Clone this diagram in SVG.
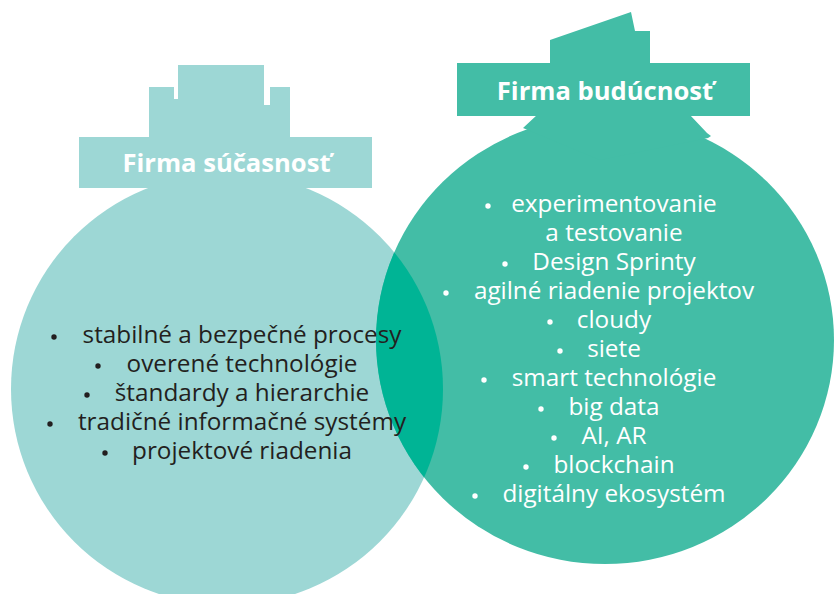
<svg xmlns="http://www.w3.org/2000/svg" width="840" height="594" viewBox="0 0 840 594">
<style>
.l{fill:#9dd7d5}
.r{fill:#43bda6}
.ov{fill:#00b495}
.title{font-family:"Open Sans","Liberation Sans",sans-serif;font-weight:bold;font-size:25.6px;fill:#ffffff;text-anchor:middle}
.lt{font-family:"Open Sans","Liberation Sans",sans-serif;font-size:24.3px;fill:#231f20;text-anchor:middle}
.rt{font-family:"Open Sans","Liberation Sans",sans-serif;font-size:24.3px;fill:#ffffff;text-anchor:middle}
.lb{fill:#231f20}
.rb{fill:#ffffff}
</style>
<defs>
<clipPath id="clipL"><circle cx="227" cy="389" r="216"/></clipPath>
</defs>
<rect width="840" height="594" fill="#ffffff"/>
<g id="present">
<circle class="l" cx="227" cy="389" r="216"/>
<polygon class="l" points="149,138 149,87 174,87 174,99 178,99 178,65 264,65 264,105 270,105 270,87 290,87 290,138"/>
<rect class="l" x="79" y="137" width="293" height="51"/>
<text class="title" x="226.5" y="171.5">Firma súčasnosť</text>
</g>
<g id="future">
<ellipse class="r" cx="605" cy="340" rx="229" ry="224"/>
<polygon class="r" points="537,115 690,115 707,133 711,136 708,138 600,160 523,128"/>
<polygon class="r" points="550,64 550,40 631,12 635,31 650,31 650,64"/>
<rect class="r" x="457" y="63" width="293" height="53"/>
<text class="title" x="605" y="99.5">Firma budúcnosť</text>
</g>
<g id="overlap">
<ellipse class="ov" cx="605" cy="340" rx="229" ry="224" clip-path="url(#clipL)"/>
</g>
<g id="present-list">
<text class="lt" x="242" y="343">stabilné a bezpečné procesy</text>
<text class="lt" x="242" y="372">overené technológie</text>
<text class="lt" x="242" y="401">štandardy a hierarchie</text>
<text class="lt" x="242" y="430">tradičné informačné systémy</text>
<text class="lt" x="242" y="459">projektové riadenia</text>
<circle class="lb" cx="54" cy="337" r="2.7"/>
<circle class="lb" cx="98" cy="366" r="2.7"/>
<circle class="lb" cx="87" cy="395" r="2.7"/>
<circle class="lb" cx="50" cy="424" r="2.7"/>
<circle class="lb" cx="105" cy="453" r="2.7"/>
</g>
<g id="future-list">
<text class="rt" x="614" y="212">experimentovanie</text>
<text class="rt" x="614" y="241">a testovanie</text>
<text class="rt" x="614" y="270">Design Sprinty</text>
<text class="rt" x="614" y="299">agilné riadenie projektov</text>
<text class="rt" x="614" y="328">cloudy</text>
<text class="rt" x="614" y="357">siete</text>
<text class="rt" x="614" y="386">smart technológie</text>
<text class="rt" x="614" y="415">big data</text>
<text class="rt" x="614" y="444">AI, AR</text>
<text class="rt" x="614" y="473">blockchain</text>
<text class="rt" x="614" y="502">digitálny ekosystém</text>
<circle class="rb" cx="488" cy="206" r="2.7"/>
<circle class="rb" cx="505" cy="264" r="2.7"/>
<circle class="rb" cx="446" cy="293" r="2.7"/>
<circle class="rb" cx="550" cy="322" r="2.7"/>
<circle class="rb" cx="560" cy="351" r="2.7"/>
<circle class="rb" cx="484" cy="380" r="2.7"/>
<circle class="rb" cx="541" cy="409" r="2.7"/>
<circle class="rb" cx="554" cy="438" r="2.7"/>
<circle class="rb" cx="526" cy="467" r="2.7"/>
<circle class="rb" cx="475" cy="496" r="2.7"/>
</g>
</svg>
